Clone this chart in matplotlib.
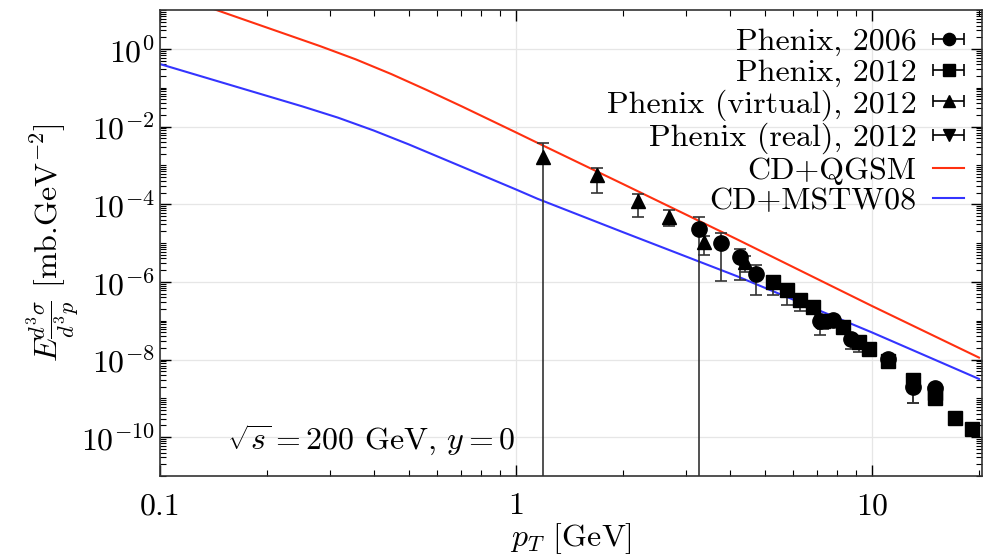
import numpy as np
import matplotlib
matplotlib.use('Agg')
import matplotlib.pyplot as plt
from matplotlib.ticker import LogLocator, NullFormatter, FixedLocator

plt.rcParams['font.family'] = 'serif'
plt.rcParams['font.serif'] = ['cmr10']
plt.rcParams['mathtext.fontset'] = 'cm'
plt.rcParams['axes.formatter.use_mathtext'] = True
plt.rcParams['axes.unicode_minus'] = False

BOTTOM = 1e-13  # error bars that run off the bottom of the plot

# Phenix 2006 (circles)
pt_2006 = [3.26, 3.77, 4.26, 4.74, 7.13, 7.76, 8.75, 11.07, 13.06, 15.0]
y_2006 = [2.24e-5, 9.8e-6, 4.4e-6, 1.6e-6, 1.0e-7, 1.07e-7, 3.4e-8, 1.05e-8, 2.0e-9, 1.86e-9]
hi_2006 = [4.57e-5, 1.78e-5, 7.2e-6, 2.75e-6, 1.3e-7, 1.3e-7, 4.5e-8, 1.3e-8, 2.4e-9, 2.2e-9]
lo_2006 = [BOTTOM, 1.05e-6, 1.1e-6, 4.5e-7, 4.4e-8, 8e-8, 1.9e-8, 8.5e-9, 7.8e-10, 1.5e-9]

# Phenix 2012 (squares)
pt_2012 = [5.26, 5.76, 6.27, 6.83, 7.28, 8.3, 9.23, 9.79, 11.07, 13.06, 15.0, 15.0, 17.1, 19.1]
y_2012 = [1.0e-6, 6.0e-7, 3.5e-7, 2.2e-7, 1.0e-7, 6.8e-8, 2.75e-8, 1.86e-8, 9e-9, 2.95e-9,
          1.35e-9, 1.0e-9, 3.2e-10, 1.6e-10]
hi_2012 = [1.2e-6, 7e-7, 4.2e-7, 2.6e-7, 1.2e-7, 8e-8, 3.2e-8, 2.2e-8, 1.05e-8, 3.4e-9,
           1.5e-9, 1.15e-9, 3.6e-10, 1.8e-10]
lo_2012 = [4.5e-7, 2.6e-7, 1.8e-7, 1.6e-7, 6e-8, 5.5e-8, 1.55e-8, 1.5e-8, 7.8e-9, 2.3e-9,
           1.2e-9, 8.8e-10, 2.8e-10, 1.4e-10]

# Phenix (virtual) 2012 (triangles up)
pt_virt = [1.19, 1.69, 2.21, 2.70, 3.37, 4.40]
y_virt = [1.68e-3, 5.6e-4, 1.23e-4, 4.7e-5, 1.07e-5, 3.2e-6]
hi_virt = [3.7e-3, 8.7e-4, 1.78e-4, 7.1e-5, 1.51e-5, 4.5e-6]
lo_virt = [BOTTOM, 1.9e-4, 4.6e-5, 2.75e-5, 4.9e-6, 1.78e-6]

# Phenix (real) 2012 (triangles down)
pt_real = [13.06, 15.0]
y_real = [2.3e-9, 1.4e-9]
hi_real = [2.6e-9, 1.6e-9]
lo_real = [7.8e-10, 1.2e-9]

# theory curves
pt_qgsm = [0.1, 0.14, 0.282, 0.355, 0.447, 0.562, 0.708, 1.0, 1.15, 2.0, 4.17, 10, 20]
y_qgsm = [32.4, 11.0, 1.175, 0.537, 0.224, 0.0871, 0.0324, 7.08e-3, 3.8e-3, 3.3e-4,
          1.26e-5, 2.4e-7, 1.12e-8]
pt_mstw = [0.1, 0.251, 0.316, 0.398, 0.5, 0.708, 1.0, 1.15, 2.0, 4.17, 10, 20]
y_mstw = [0.407, 0.0331, 0.0170, 7.94e-3, 3.47e-3, 9.1e-4, 2.4e-4, 1.38e-4, 1.9e-5,
          1.41e-6, 5.0e-8, 3.16e-9]

xticks = [0.1, 1, 10]
xticklabels = ['0.1', '1', '10']
yticks = [1e-10, 1e-8, 1e-6, 1e-4, 1e-2, 1e0]

FS = 23

fig = plt.figure(figsize=(9.85, 5.59), dpi=100)
ax = fig.add_axes([0.1624, 0.1485, 0.8346, 0.8335])
ax.set_xscale('log')
ax.set_yscale('log')

ax.plot(pt_qgsm, y_qgsm, color='#ff3010', lw=1.5, zorder=2)
ax.plot(pt_mstw, y_mstw, color='#3434ff', lw=1.5, zorder=2)

eb = dict(color='black', ecolor='#333333', elinewidth=1.2, capsize=4.5, capthick=1.2,
          linestyle='none', zorder=3)
sets = [
    (pt_2006, y_2006, hi_2006, lo_2006, 'o', 11, 'Phenix, 2006'),
    (pt_2012, y_2012, hi_2012, lo_2012, 's', 10, 'Phenix, 2012'),
    (pt_virt, y_virt, hi_virt, lo_virt, '^', 10, 'Phenix (virtual), 2012'),
    (pt_real, y_real, hi_real, lo_real, 'v', 10, 'Phenix (real), 2012'),
]
handles = []
for x, y, hi, lo, m, ms, lab in sets:
    y = np.array(y)
    yerr = [y - np.array(lo), np.array(hi) - y]
    ax.errorbar(x, y, yerr=yerr, fmt=m, ms=ms, **eb)
    # legend proxy with a horizontal bar like the original
    h = ax.errorbar([np.nan], [np.nan], xerr=[1], fmt=m, ms=ms * 0.8, color='black',
                    ecolor='black', elinewidth=1.2, capsize=4.5, capthick=1.2, label=lab)
    handles.append(h)

l1, = ax.plot([], [], color='#ff3010', lw=1.5, label='CD+QGSM')
l2, = ax.plot([], [], color='#3434ff', lw=1.5, label='CD+MSTW08')
handles += [l1, l2]

ax.set_xlim(0.1, 20.4)
ax.set_ylim(1e-11, 1e1)

ax.set_xticks(xticks)
ax.set_xticklabels(xticklabels)
ax.xaxis.set_minor_locator(LogLocator(base=10, subs=np.arange(2, 10), numticks=20))
ax.xaxis.set_minor_formatter(NullFormatter())
ax.yaxis.set_major_locator(FixedLocator(yticks))
ax.yaxis.set_minor_locator(LogLocator(base=10, subs=np.arange(1, 10), numticks=40))
ax.yaxis.set_minor_formatter(NullFormatter())

ax.tick_params(which='both', direction='in', top=True, right=True, labelsize=FS)
ax.tick_params(which='major', length=8, width=1)
ax.tick_params(which='minor', length=4, width=0.8)
ax.tick_params(axis='x', pad=12)
ax.grid(True, which='major', color='#e6e6e6', lw=0.9)
ax.set_axisbelow(True)
for s in ax.spines.values():
    s.set_linewidth(1.2)
    s.set_color('#333333')

ax.set_xlabel(r'$p_T$ [GeV]', fontsize=FS, labelpad=1)
ax.set_ylabel(r'$E\frac{d^3\sigma}{d^3p}$ [mb.GeV$^{-2}$]', fontsize=FS, labelpad=0)

ax.text(0.0815, 0.077, r'$\sqrt{s} = 200$ GeV, $y = 0$', transform=ax.transAxes,
        fontsize=FS, ha='left', va='center')

ax.legend(handles=handles, loc='upper right', frameon=False, markerfirst=False,
          fontsize=FS, handlelength=1.0, handletextpad=0.5, labelspacing=0.07,
          borderaxespad=0.3, borderpad=0.25)

fig.savefig('out.png', dpi=100)
